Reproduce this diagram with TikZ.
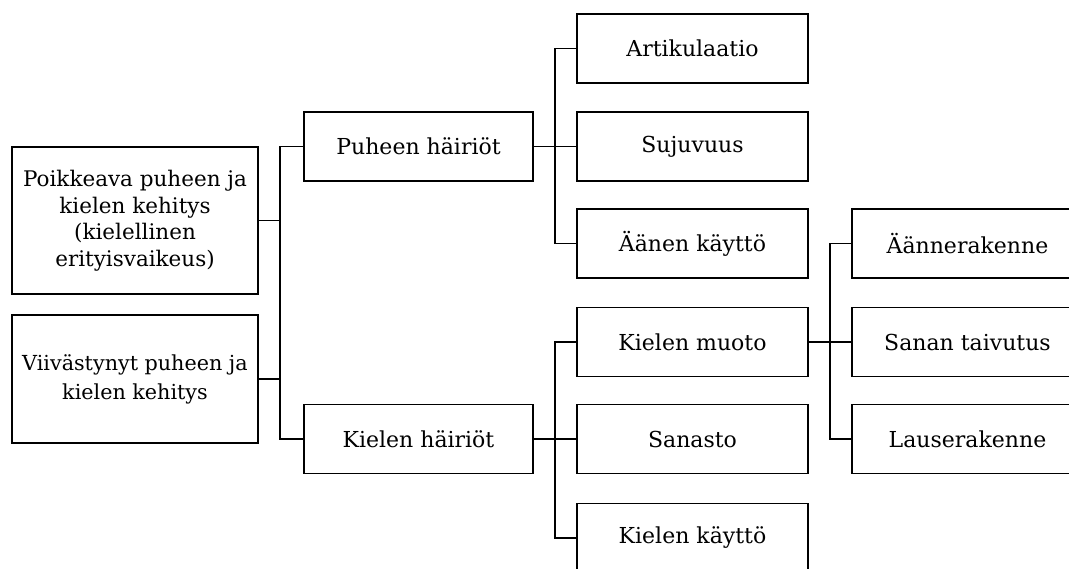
\documentclass[tikz,border=0pt]{standalone}
\usepackage{fontspec}
\setmainfont{DejaVu Serif}
\begin{document}
\begin{tikzpicture}[x=1pt,y=-1pt,
  box/.style={draw,line width=1.8pt,minimum width=231pt,minimum height=69pt,inner sep=0pt,align=center,font=\fontsize{22}{27}\selectfont},
  conn/.style={line width=1.8pt}]
\useasboundingbox (0,0) rectangle (1069,568);
\clip (0,0) rectangle (1069,568);
% column 1
\node[box,minimum width=246pt,minimum height=147pt,font=\fontsize{21.5}{26.5}\selectfont] (poik) at (135,220.5) {Poikkeava puheen ja\\kielen kehitys\\(kielellinen\\erityisvaikeus)};
\node[box,minimum width=246pt,minimum height=128pt,font=\fontsize{20.7}{29}\selectfont] (viiv) at (135,379) {Viivästynyt puheen ja\\kielen kehitys};
% column 2
\node[box,minimum width=229pt] (puh) at (418.5,146.5) {Puheen häiriöt};
\node[box,minimum width=229pt] (kh) at (418.5,439) {Kielen häiriöt};
% column 3
\node[box] (art) at (692.5,48.5) {Artikulaatio};
\node[box] (suj) at (692.5,146.5) {Sujuvuus};
\node[box] (aan) at (692.5,243.5) {Äänen käyttö};
\node[box] (km) at (692.5,342) {Kielen muoto};
\node[box] (san) at (692.5,439) {Sanasto};
\node[box] (kk) at (692.5,538) {Kielen käyttö};
% column 4
\node[box] (an) at (967.5,243.5) {Äännerakenne};
\node[box] (st) at (967.5,342) {Sanan taivutus};
\node[box] (la) at (967.5,439) {Lauserakenne};
% buses
\coordinate (b1) at (280,0);
\coordinate (b2) at (555,0);
\coordinate (b3) at (830,0);
\draw[conn] (puh.west) -- (b1 |- puh.west) -- (b1 |- kh.west) -- (kh.west);
\draw[conn] (poik.east) -- (b1 |- poik.east);
\draw[conn] (viiv.east) -- (b1 |- viiv.east);
\draw[conn] (art.west) -- (b2 |- art.west) -- (b2 |- aan.west) -- (aan.west);
\draw[conn] (puh.east) -- (suj.west);
\draw[conn] (km.west) -- (b2 |- km.west) -- (b2 |- kk.west) -- (kk.west);
\draw[conn] (kh.east) -- (san.west);
\draw[conn] (an.west) -- (b3 |- an.west) -- (b3 |- la.west) -- (la.west);
\draw[conn] (km.east) -- (st.west);
\end{tikzpicture}
\end{document}
